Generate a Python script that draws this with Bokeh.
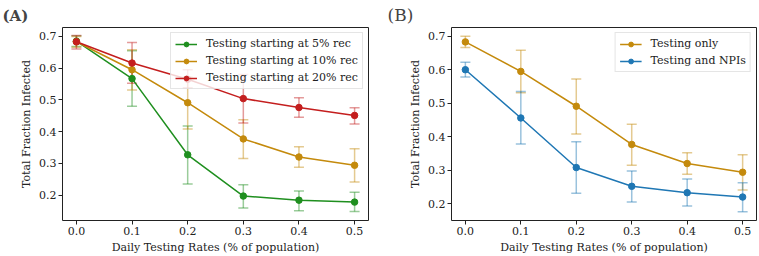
from bokeh.plotting import figure
from bokeh.layouts import row
from bokeh.models import ColumnDataSource, Whisker, TeeHead, Range1d, PrintfTickFormatter
from bokeh.embed import file_html
from bokeh.resources import INLINE

rates = [0.0, 0.1, 0.2, 0.3, 0.4, 0.5]

# Panel A
rec5_mean = [0.685, 0.567, 0.327, 0.197, 0.184, 0.178]
rec5_low = [0.668, 0.480, 0.235, 0.159, 0.151, 0.148]
rec5_high = [0.702, 0.655, 0.418, 0.233, 0.213, 0.209]

rec10_mean = [0.683, 0.595, 0.491, 0.377, 0.320, 0.294]
rec10_low = [0.666, 0.531, 0.408, 0.315, 0.288, 0.241]
rec10_high = [0.700, 0.658, 0.572, 0.437, 0.352, 0.346]

rec20_mean = [0.683, 0.616, 0.565, 0.504, 0.476, 0.451]
rec20_low = [0.660, 0.552, 0.538, 0.427, 0.445, 0.424]
rec20_high = [0.703, 0.681, 0.595, 0.580, 0.507, 0.475]

# Panel B
only_mean = rec10_mean
only_low = rec10_low
only_high = rec10_high

npi_mean = [0.600, 0.456, 0.308, 0.252, 0.233, 0.220]
npi_low = [0.578, 0.378, 0.231, 0.205, 0.193, 0.176]
npi_high = [0.622, 0.535, 0.385, 0.298, 0.274, 0.263]

labels_a = ["Testing starting at 5% rec", "Testing starting at 10% rec", "Testing starting at 20% rec"]
labels_b = ["Testing only", "Testing and NPIs"]

GREEN = "#1f8f1f"
GOLD = "#c48a0c"
RED = "#c41e1e"
BLUE = "#1f77b4"
FONT = "DejaVu Serif"


def make_fig(width, left, right, title, bold, tsize, tx, y0, y1):
    p = figure(width=width, height=256, output_backend="svg", toolbar_location=None,
               min_border_left=left, min_border_right=right, min_border_top=24,
               min_border_bottom=34, x_range=Range1d(-0.025, 0.525), y_range=Range1d(y0, y1))
    p.xgrid.visible = False
    p.ygrid.visible = False
    p.outline_line_color = "#222222"
    p.outline_line_width = 1
    p.title.text = title
    p.title.align = "left"
    p.title.offset = -left + tx
    p.title.text_font = FONT
    p.title.text_font_size = tsize
    p.title.text_font_style = "bold" if bold else "normal"
    p.title.standoff = 5
    for ax in (p.xaxis, p.yaxis):
        ax.axis_line_color = None
        ax.minor_tick_line_color = None
        ax.major_tick_in = 0
        ax.major_tick_out = 4
        ax.major_tick_line_color = "#222222"
        ax.major_label_text_font = FONT
        ax.major_label_text_font_size = "11px"
        ax.major_label_text_color = "#222222"
        ax.axis_label_text_font = FONT
        ax.axis_label_text_font_size = "11px"
        ax.axis_label_text_font_style = "normal"
        ax.axis_label_text_color = "#222222"
        ax.major_label_standoff = 2
        ax.axis_label_standoff = 3
    p.xaxis.ticker = rates
    p.xaxis.formatter = PrintfTickFormatter(format="%.1f")
    p.xaxis.axis_label = "Daily Testing Rates (% of population)"
    p.yaxis.ticker = [0.2, 0.3, 0.4, 0.5, 0.6, 0.7]
    p.yaxis.formatter = PrintfTickFormatter(format="%.1f")
    p.yaxis.axis_label = "Total Fraction Infected"
    return p


def add_series(p, mean, low, high, color, label):
    src = ColumnDataSource(dict(x=rates, y=mean, lower=low, upper=high))
    w = Whisker(base="x", upper="upper", lower="lower", source=src,
                line_color=color, line_alpha=0.45, line_width=1.5,
                upper_head=TeeHead(size=10, line_color=color, line_alpha=0.45, line_width=1.5),
                lower_head=TeeHead(size=10, line_color=color, line_alpha=0.45, line_width=1.5))
    p.add_layout(w)
    p.line("x", "y", source=src, line_color=color, line_width=1.5, legend_label=label)
    p.scatter("x", "y", source=src, size=6.5, fill_color=color, line_color=color, legend_label=label)


def style_legend(p):
    lg = p.legend[0]
    lg.location = "top_right"
    lg.margin = 5
    lg.padding = 4
    lg.spacing = 4
    lg.glyph_width = 22
    lg.glyph_height = 12
    lg.label_height = 12
    lg.label_standoff = 9
    lg.label_text_font = FONT
    lg.label_text_font_size = "11px"
    lg.label_text_color = "#222222"
    lg.border_line_color = "#cccccc"
    lg.border_line_width = 1
    lg.background_fill_alpha = 0.8


pa = make_fig(380, 62, 12, "(A)", True, "15px", 2, 0.120, 0.728)
add_series(pa, rec5_mean, rec5_low, rec5_high, GREEN, labels_a[0])
add_series(pa, rec10_mean, rec10_low, rec10_high, GOLD, labels_a[1])
add_series(pa, rec20_mean, rec20_low, rec20_high, RED, labels_a[2])
style_legend(pa)

pb = make_fig(379, 71, 3, "(B)", False, "17px", 7, 0.150, 0.726)
add_series(pb, only_mean, only_low, only_high, GOLD, labels_b[0])
add_series(pb, npi_mean, npi_low, npi_high, BLUE, labels_b[1])
style_legend(pb)

layout = row(pa, pb)
open("out.html", "w").write(file_html(layout, INLINE))
